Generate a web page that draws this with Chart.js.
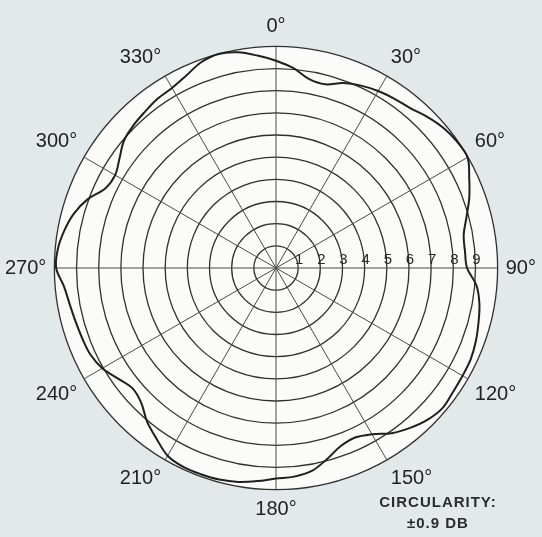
<!DOCTYPE html>
<html>
<head>
<meta charset="utf-8">
<script src="https://cdn.jsdelivr.net/npm/chart.js@4.4.0/dist/chart.umd.min.js"></script>
<style>
  html, body { margin: 0; padding: 0; background: #e3e8eb; }
  #wrap { position: relative; width: 542px; height: 537px; }
  #note {
    position: absolute; left: 368px; top: 491px; width: 140px;
    text-align: center; color: #2a2c30; letter-spacing: 1px;
    font: bold 15px "Liberation Sans", Arial, sans-serif; line-height: 21px;
  }
</style>
</head>
<body>
<div id="wrap">
  <canvas id="myChart" width="542" height="537"></canvas>
  <div id="note">CIRCULARITY:<br>±0.9 DB</div>
</div>
<script>
// bearing of each reading, degrees clockwise from 0
const bearings = [0, 5, 10, 15, 20, 25, 30, 35, 40, 45, 50, 55,
    60, 65, 70, 75, 80, 85, 90, 95, 100, 105, 110, 115,
    120, 125, 130, 135, 140, 145, 150, 155, 160, 165, 170, 175,
    180, 185, 190, 195, 200, 205, 210, 215, 220, 225, 230, 235,
    240, 245, 250, 255, 260, 265, 270, 275, 280, 285, 290, 295,
    300, 305, 310, 315, 320, 325, 330, 335, 340, 345, 350, 355];

// response, in ring units (outer ring = 10)
const response = [9.35, 9.05, 8.65, 8.58, 8.88, 9.08, 9.22, 9.32, 9.42, 9.65, 9.85, 9.96,
    9.98, 9.62, 9.28, 8.90, 8.60, 8.56, 8.62, 9.08, 9.32, 9.46, 9.60, 9.70,
    9.72, 9.75, 9.82, 9.68, 9.42, 9.10, 8.66, 8.44, 8.55, 8.92, 9.30, 9.45,
    9.50, 9.65, 9.80, 9.88, 9.90, 9.90, 9.78, 9.40, 9.05, 8.60, 8.45, 8.70,
    9.05, 9.24, 9.30, 9.36, 9.45, 9.60, 9.92, 9.88, 9.70, 9.45, 9.05, 8.50,
    8.38, 8.62, 8.95, 9.10, 9.20, 9.32, 9.38, 9.58, 9.88, 10.0, 9.88, 9.62];

const angleLabels = ['0°', '30°', '60°', '90°', '120°', '150°',
    '180°', '210°', '240°', '270°', '300°', '330°'];
const ringLabels = ['1', '2', '3', '4', '5', '6', '7', '8', '9'];

const pointNames = bearings.map(function (b) {
    return b % 30 === 0 ? angleLabels[b / 30] : '';
});

// white paper inside the outer ring
const discFill = {
    id: 'discFill',
    beforeDraw(chart) {
        const s = chart.scales.r;
        const ctx = chart.ctx;
        ctx.save();
        ctx.fillStyle = '#fbfbfa';
        ctx.beginPath();
        ctx.arc(s.xCenter, s.yCenter, s.drawingArea, 0, Math.PI * 2);
        ctx.fill();
        ctx.restore();
    }
};

// ring numbers sit along the 90° spoke
const ringNumbers = {
    id: 'ringNumbers',
    afterDraw(chart) {
        const s = chart.scales.r;
        const ctx = chart.ctx;
        const idx = bearings.indexOf(90);
        ctx.save();
        ctx.font = '15px "Liberation Sans", Arial, sans-serif';
        ctx.fillStyle = '#2a2a2a';
        ctx.textAlign = 'center';
        ctx.textBaseline = 'bottom';
        ringLabels.forEach(function (t, i) {
            const p = s.getPointPositionForValue(idx, i + 1);
            ctx.fillText(t, p.x + 1, p.y - 1);
        });
        ctx.restore();
    }
};

const ctx = document.getElementById('myChart');

new Chart(ctx, {
    type: 'radar',
    data: {
        labels: pointNames,
        datasets: [{
            data: response,
            borderColor: '#1f1f1f',
            borderWidth: 2,
            fill: false,
            pointRadius: 0,
            tension: 0.35
        }]
    },
    options: {
        responsive: false,
        animation: false,
        plugins: {
            legend: { display: false },
            tooltip: { enabled: false }
        },
        scales: {
            r: {
                min: 0,
                max: 10,
                ticks: { stepSize: 1, display: false },
                grid: { circular: true, color: '#303030', lineWidth: 1.3 },
                angleLines: {
                    color: '#4a4a4a',
                    lineWidth: function (c) { return c.index % 6 === 0 ? 1 : 0; }
                },
                pointLabels: {
                    padding: 8,
                    color: '#222',
                    font: { family: '"Liberation Sans", Arial, sans-serif', size: 20 }
                }
            }
        }
    },
    plugins: [discFill, ringNumbers]
});
</script>
</body>
</html>
